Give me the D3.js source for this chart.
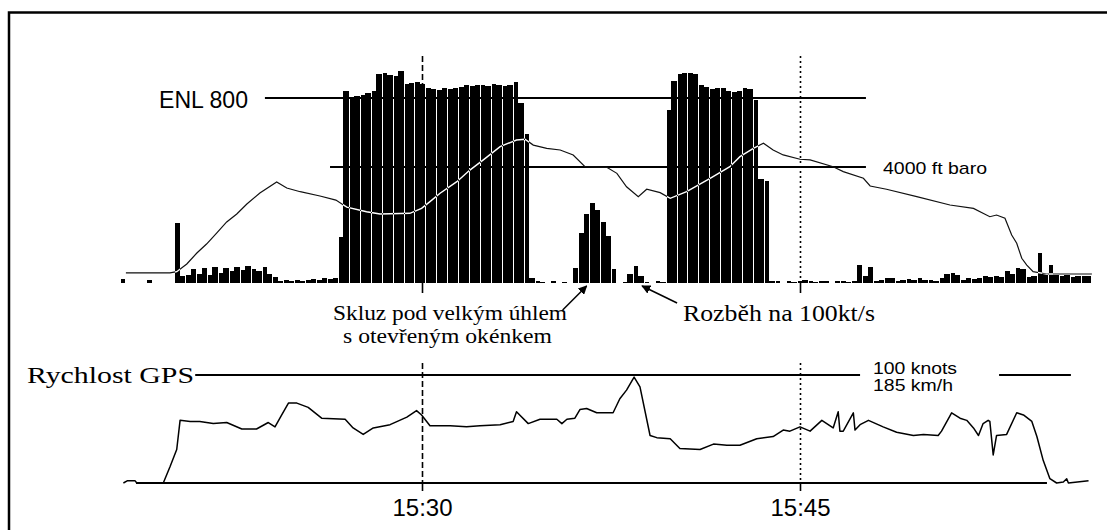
<!DOCTYPE html>
<html>
<head>
<meta charset="utf-8">
<script src="https://cdn.jsdelivr.net/npm/d3@7"></script>
<style>
  body { margin: 0; background: #fff; }
</style>
</head>
<body>
<div id="chart"></div>
<script>
// ENL samples, one every 13 s from enlStart
const enlStart = '15:18:00'
const enlStepSec = 13
const enlValues = [
  17, 0, 0, 0, 0, 12, 0, 0, 0, 0,
  258, 30,
  35, 60, 40, 65, 35, 70, 45, 65, 50, 70, 55, 75, 60, 50, 70, 40,
  25, 10, 15, 8, 15, 10, 12, 18, 15, 20, 18, 22,
  200,
  830, 805, 808, 812, 820, 830, 905, 910, 900, 895, 915, 860, 865, 870, 860, 845, 840,
  835, 845, 840, 845, 848, 855, 852, 858, 855, 850, 860, 855, 850, 858, 870, 780, 645, 20,
  10, 5, 0, 8, 0, 5, 0,
  65, 215, 300, 345, 315, 265, 205, 60,
  0, 5, 40, 75, 30, 5, 0, 8, 5,
  750, 873, 905, 910, 910, 905, 855, 848, 840, 845, 842, 830, 828, 832, 845, 840, 790, 450, 440, 10,
  8, 0, 10, 5, 10, 12, 8, 5, 10, 8, 0, 10, 8, 5, 10,
  80, 30, 70, 10, 15, 20, 22, 10, 15, 18, 15, 20, 12, 15, 10, 20, 40, 45, 35, 15, 20, 18,
  22, 30, 28, 32, 25, 50, 40, 65, 60, 25, 30, 130, 40, 80, 35, 30, 35, 28, 30, 32, 30,
]

// barometric altitude (ft)
const altTimes = ['15:18:15', '15:20:00', '15:20:16', '15:20:40', '15:21:04', '15:21:27', '15:21:51',
  '15:22:15', '15:22:39', '15:23:03', '15:23:34', '15:24:14', '15:24:38', '15:25:10', '15:25:57',
  '15:26:35', '15:27:01', '15:27:48', '15:28:20', '15:29:31', '15:29:59', '15:30:19', '15:30:43',
  '15:31:23', '15:31:54', '15:32:26', '15:33:06', '15:33:45', '15:34:05', '15:34:25', '15:34:57',
  '15:35:29', '15:36:00', '15:36:28', '15:37:20', '15:37:44', '15:38:07', '15:38:35', '15:38:55',
  '15:39:27', '15:39:51', '15:40:30', '15:41:26', '15:42:13', '15:42:37', '15:43:09', '15:43:33',
  '15:43:56', '15:44:20', '15:45:00', '15:45:24', '15:46:19', '15:46:43', '15:47:31', '15:47:47',
  '15:48:26', '15:49:38', '15:50:57', '15:51:53', '15:52:32', '15:52:48', '15:53:08', '15:53:24',
  '15:53:36', '15:53:48', '15:54:00', '15:54:15', '15:54:47', '15:56:35']
const altFeet = [570, 570, 610, 860, 1215, 1505, 1860, 2220, 2480, 2800, 3160, 3515, 3320, 3200,
  3060, 2930, 2700, 2550, 2480, 2500, 2660, 2880, 3150, 3525, 3900, 4230, 4660, 4875, 4900, 4710,
  4605, 4550, 4390, 4010, 3990, 3795, 3360, 3040, 3280, 3170, 2985, 3200, 3635, 4010, 4335, 4605,
  4770, 4550, 4390, 4250, 4230, 4010, 3850, 3635, 3385, 3280, 3040, 2770, 2660, 2390, 2445, 2340,
  1800, 1530, 1045, 825, 610, 535, 535]

// GPS ground speed (knots)
const speedTimes = ['15:18:09', '15:18:18', '15:18:37', '15:18:41', '15:19:44', '15:20:00', '15:20:16',
  '15:20:24', '15:20:48', '15:21:11', '15:21:43', '15:22:15', '15:22:51', '15:23:26', '15:23:54',
  '15:24:10', '15:24:26', '15:24:42', '15:25:02', '15:25:29', '15:26:01', '15:26:57', '15:27:16',
  '15:27:40', '15:28:04', '15:28:44', '15:29:24', '15:29:47', '15:29:59', '15:30:19', '15:31:07',
  '15:31:46', '15:32:18', '15:33:06', '15:33:37', '15:33:45', '15:34:13', '15:34:41', '15:35:21',
  '15:35:33', '15:35:45', '15:36:04', '15:36:16', '15:36:32', '15:36:56', '15:37:35', '15:37:51',
  '15:38:07', '15:38:25', '15:38:39', '15:39:03', '15:39:19', '15:39:51', '15:40:14', '15:41:02',
  '15:41:34', '15:42:06', '15:42:37', '15:43:17', '15:43:56', '15:44:20', '15:44:36', '15:45:00',
  '15:45:24', '15:45:52', '15:46:19', '15:46:31', '15:46:35', '15:46:43', '15:47:07', '15:47:11',
  '15:47:23', '15:47:43', '15:48:18', '15:48:50', '15:49:30', '15:49:54', '15:50:29', '15:50:37',
  '15:51:01', '15:51:21', '15:51:37', '15:51:53', '15:52:05', '15:52:16', '15:52:28', '15:52:32',
  '15:52:40', '15:52:48', '15:53:12', '15:53:36', '15:53:52', '15:54:12', '15:54:24', '15:54:39',
  '15:54:55', '15:55:11', '15:55:27', '15:55:35', '15:55:39', '15:56:27']
const speedKnots = [0, 2, 2, 0, 0, 15, 31, 58, 57, 57, 55, 56, 50, 50, 56, 52, 63, 74, 74, 70, 60,
  59, 51, 45, 51, 54, 61, 67, 63, 53, 53, 52, 53, 54, 57, 66, 55, 59, 59, 55, 59, 60, 68, 69, 65,
  65, 78, 86, 98, 89, 44, 42, 41, 32, 31, 36, 35, 35, 41, 43, 49, 48, 52, 48, 58, 51, 66, 48, 48,
  65, 49, 54, 58, 52, 47, 44, 45, 44, 48, 65, 60, 58, 51, 44, 55, 58, 57, 26, 44, 45, 65, 63, 57,
  43, 21, 4, 0, 1, 4, 0, 2]

// reference levels and time marks
const enlRefValue = 800
const enlRefSpan = ['15:23:46', '15:47:37']
const baroRefFeet = 4000
const baroRefSpan = ['15:26:21', '15:47:37']
const speedRefKnots = 100
const speedRefSpans = [['15:21:00', '15:47:23'], ['15:52:54', '15:55:45']]
const speedBaseSpan = ['15:18:39', '15:54:48']
const timeTicks = ['15:30:00', '15:45:00']
const timeTickLabels = ['15:30', '15:45']
const timeTickDash = ['6,3', '2,3']
const arrowTargets = ['15:36:32', '15:38:44']

const width = 1107
const height = 530
const sans = 'Liberation Sans, Arial, sans-serif'
const serif = 'Liberation Serif, Times New Roman, serif'

const parse = d3.timeParse('%H:%M:%S')

const x = d3.scaleTime()
  .domain([parse('15:18:00'), parse('15:56:30')])
  .range([119.6, 1089.8])
const yEnl = d3.scaleLinear().domain([0, 800]).range([283, 98])
const yAlt = d3.scaleLinear().domain([600, 4000]).range([272, 167])
const ySpd = d3.scaleLinear().domain([0, 100]).range([483, 375])

const t0 = parse(enlStart)
const enl = enlValues.map((v, i) => {
  const t = d3.timeSecond.offset(t0, i * enlStepSec)
  return { i, t, t1: d3.timeSecond.offset(t, enlStepSec), v }
})
const alt = altTimes.map((t, i) => ({ t: parse(t), ft: altFeet[i] }))
const speed = speedTimes.map((t, i) => ({ t: parse(t), kt: speedKnots[i] }))

const svg = d3.select('#chart')
  .append('svg')
  .attr('width', width)
  .attr('height', height)
  .attr('viewBox', `0 0 ${width} ${height}`)

svg.append('rect').attr('width', width).attr('height', height).attr('fill', '#fff')

const defs = svg.append('defs')
defs.append('marker')
  .attr('id', 'arrow')
  .attr('viewBox', '0 0 10 10')
  .attr('refX', 9)
  .attr('refY', 5)
  .attr('markerWidth', 9)
  .attr('markerHeight', 9)
  .attr('markerUnits', 'userSpaceOnUse')
  .attr('orient', 'auto')
  .append('path')
  .attr('d', 'M0,0 L10,5 L0,10 z')
  .attr('fill', '#000')

// frame
svg.append('path')
  .attr('d', `M9,${height} V12.5 H${width}`)
  .attr('fill', 'none')
  .attr('stroke', '#000')
  .attr('stroke-width', 2.5)

// bar geometry, a 1px white gap every second sample
const barX = (d) => Math.round(x(d.t)) + (d.i % 2 === 0 ? 1 : 0)
const barW = (d) => Math.max(0.5, Math.round(x(d.t1)) - barX(d))

// clip for the white part of the altitude trace
defs.append('clipPath')
  .attr('id', 'enl-clip')
  .selectAll('rect')
  .data(enl)
  .join('rect')
  .attr('x', barX)
  .attr('width', barW)
  .attr('y', (d) => yEnl(d.v))
  .attr('height', (d) => yEnl(0) - yEnl(d.v))

// reference lines
const refLines = svg.append('g').attr('stroke', '#000').attr('stroke-width', 2)
refLines.append('line')
  .attr('x1', x(parse(enlRefSpan[0])))
  .attr('x2', x(parse(enlRefSpan[1])))
  .attr('y1', yEnl(enlRefValue))
  .attr('y2', yEnl(enlRefValue))
refLines.append('line')
  .attr('x1', x(parse(baroRefSpan[0])))
  .attr('x2', x(parse(baroRefSpan[1])))
  .attr('y1', yAlt(baroRefFeet))
  .attr('y2', yAlt(baroRefFeet))
speedRefSpans.forEach((span) => {
  refLines.append('line')
    .attr('x1', x(parse(span[0])))
    .attr('x2', x(parse(span[1])))
    .attr('y1', ySpd(speedRefKnots))
    .attr('y2', ySpd(speedRefKnots))
})
refLines.append('line')
  .attr('x1', x(parse(speedBaseSpan[0])))
  .attr('x2', x(parse(speedBaseSpan[1])))
  .attr('y1', ySpd(0))
  .attr('y2', ySpd(0))

// time marks
timeTicks.forEach((t, k) => {
  const tx = Math.round(x(parse(t))) + 0.5
  const g = svg.append('g').attr('stroke', '#000').attr('stroke-width', 1.6)
  g.append('line')
    .attr('x1', tx).attr('x2', tx)
    .attr('y1', 56).attr('y2', yEnl(0))
    .attr('stroke-dasharray', timeTickDash[k])
  g.append('line')
    .attr('x1', tx).attr('x2', tx)
    .attr('y1', yEnl(0)).attr('y2', yEnl(0) + 10)
  g.append('line')
    .attr('x1', tx).attr('x2', tx)
    .attr('y1', 363).attr('y2', ySpd(0))
    .attr('stroke-dasharray', timeTickDash[k])
  g.append('line')
    .attr('x1', tx).attr('x2', tx)
    .attr('y1', ySpd(0)).attr('y2', ySpd(0) + 8)
  svg.append('text')
    .attr('x', tx)
    .attr('y', 516)
    .attr('text-anchor', 'middle')
    .attr('font-family', sans)
    .attr('font-size', 24)
    .text(timeTickLabels[k])
})

// ENL bars
svg.append('g')
  .attr('fill', '#000')
  .attr('shape-rendering', 'crispEdges')
  .selectAll('rect')
  .data(enl.filter((d) => d.v > 0))
  .join('rect')
  .attr('x', barX)
  .attr('width', barW)
  .attr('y', (d) => yEnl(d.v))
  .attr('height', (d) => yEnl(0) - yEnl(d.v))

// altitude trace, dark outside the bars and white inside
const altLine = d3.line().x((d) => x(d.t)).y((d) => yAlt(d.ft))
svg.append('path')
  .attr('d', altLine(alt))
  .attr('fill', 'none')
  .attr('stroke', '#111')
  .attr('stroke-width', 1.2)
svg.append('path')
  .attr('d', altLine(alt))
  .attr('fill', 'none')
  .attr('stroke', '#fff')
  .attr('stroke-width', 1.4)
  .attr('clip-path', 'url(#enl-clip)')

// speed trace
svg.append('path')
  .attr('d', d3.line().x((d) => x(d.t)).y((d) => ySpd(d.kt))(speed))
  .attr('fill', 'none')
  .attr('stroke', '#000')
  .attr('stroke-width', 1.5)
  .attr('stroke-linejoin', 'round')

// labels
svg.append('text')
  .attr('x', 248)
  .attr('y', 108)
  .attr('text-anchor', 'end')
  .attr('font-family', sans)
  .attr('font-size', 24)
  .attr('textLength', 89)
  .attr('lengthAdjust', 'spacingAndGlyphs')
  .text('ENL 800')

svg.append('text')
  .attr('x', 883)
  .attr('y', 174)
  .attr('font-family', sans)
  .attr('font-size', 17)
  .attr('textLength', 104)
  .attr('lengthAdjust', 'spacingAndGlyphs')
  .text('4000 ft baro')

svg.append('text')
  .attr('x', 873)
  .attr('y', 374)
  .attr('font-family', sans)
  .attr('font-size', 17)
  .attr('textLength', 84)
  .attr('lengthAdjust', 'spacingAndGlyphs')
  .text('100 knots')

svg.append('text')
  .attr('x', 873)
  .attr('y', 391)
  .attr('font-family', sans)
  .attr('font-size', 17)
  .attr('textLength', 80)
  .attr('lengthAdjust', 'spacingAndGlyphs')
  .text('185 km/h')

svg.append('text')
  .attr('x', 27)
  .attr('y', 383)
  .attr('font-family', serif)
  .attr('font-size', 23)
  .attr('textLength', 167)
  .attr('lengthAdjust', 'spacingAndGlyphs')
  .text('Rychlost GPS')

svg.append('text')
  .attr('x', 333)
  .attr('y', 320)
  .attr('font-family', serif)
  .attr('font-size', 22)
  .attr('textLength', 234)
  .attr('lengthAdjust', 'spacingAndGlyphs')
  .text('Skluz pod velkým úhlem')

svg.append('text')
  .attr('x', 343)
  .attr('y', 343)
  .attr('font-family', serif)
  .attr('font-size', 22)
  .attr('textLength', 209)
  .attr('lengthAdjust', 'spacingAndGlyphs')
  .text('s otevřeným okénkem')

svg.append('text')
  .attr('x', 683)
  .attr('y', 321)
  .attr('font-family', serif)
  .attr('font-size', 23)
  .attr('textLength', 192)
  .attr('lengthAdjust', 'spacingAndGlyphs')
  .text('Rozběh na 100kt/s')

// arrows pointing at the ENL bumps
const arrowOffsets = [[-24, 24], [35, 17]]
arrowTargets.forEach((t, k) => {
  const tx = x(parse(t))
  const ty = yEnl(0) + 3
  svg.append('line')
    .attr('x1', tx + arrowOffsets[k][0])
    .attr('y1', ty + arrowOffsets[k][1])
    .attr('x2', tx)
    .attr('y2', ty)
    .attr('stroke', '#000')
    .attr('stroke-width', 1.5)
    .attr('marker-end', 'url(#arrow)')
})
</script>
</body>
</html>
